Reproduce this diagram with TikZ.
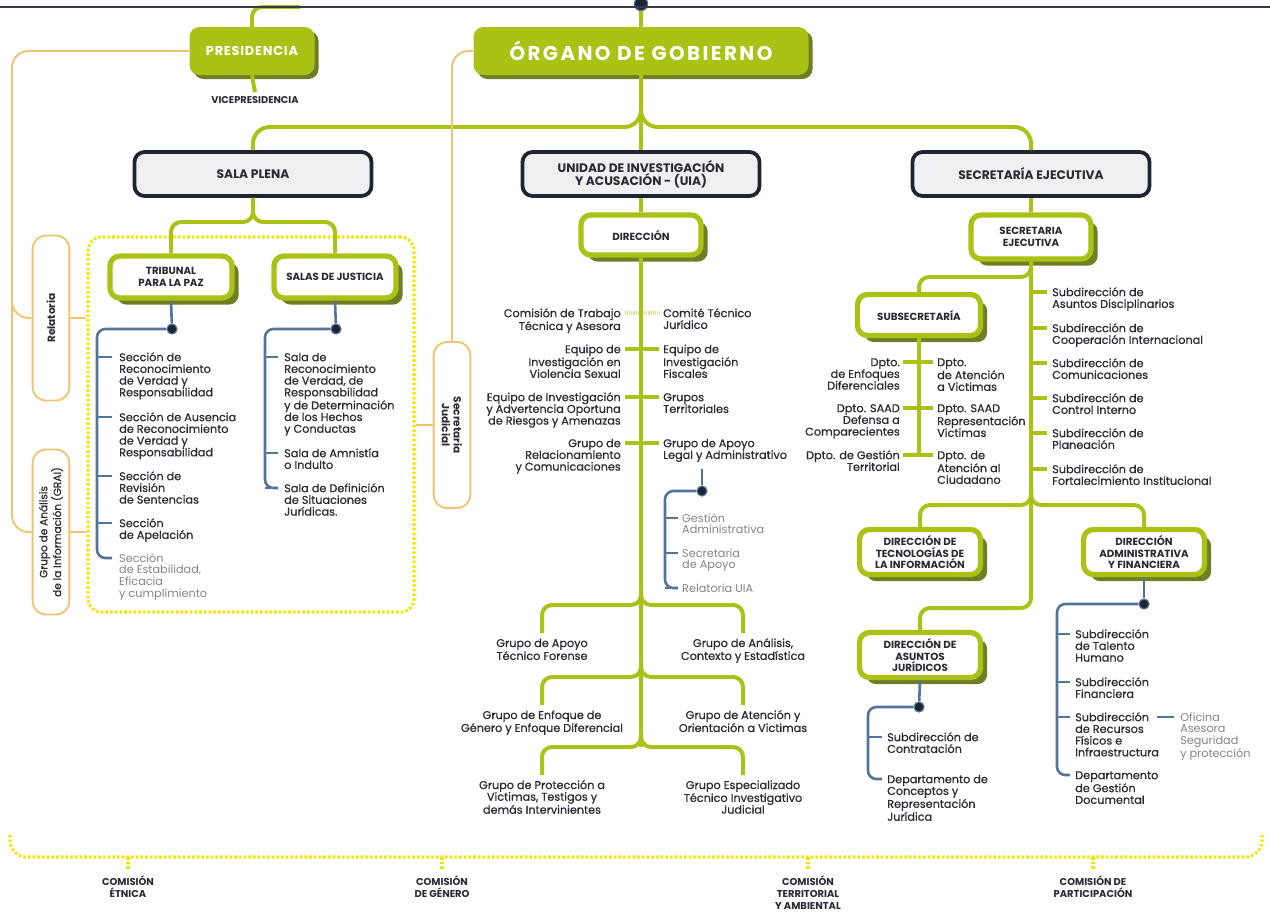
\documentclass[tikz,border=0pt]{standalone}
\usepackage{fontspec}
\setmainfont{Poppins}
\usetikzlibrary{shadows}

\definecolor{verde}{RGB}{170,193,22}
\definecolor{verdeosc}{RGB}{110,126,36}
\definecolor{marino}{RGB}{30,36,50}
\definecolor{grisfondo}{RGB}{240,240,242}
\definecolor{naranja}{RGB}{240,196,112}
\definecolor{amarillo}{RGB}{246,228,0}
\definecolor{azul}{RGB}{82,116,156}
\definecolor{texto}{RGB}{40,42,52}
\definecolor{gristexto}{RGB}{130,132,140}

\begin{document}
\begin{tikzpicture}[x=0.03cm,y=-0.03cm,
    gfill/.style={fill=verde,rounded corners=0.3cm,text=white,
        drop shadow={shadow xshift=0.12cm,shadow yshift=-0.12cm,fill=verdeosc,opacity=1}},
    dbox/.style={draw=marino,line width=3.2pt,fill=grisfondo,rounded corners=0.3cm,
        text=texto,align=center,font=\bfseries\fontsize{10.5}{10}\selectfont,
        minimum width=7.11cm,minimum height=1.32cm},
    wbox/.style={draw=verde,line width=4.5pt,fill=white,rounded corners=0.3cm,
        text=texto,align=center,font=\bfseries\fontsize{8.8}{10}\selectfont,
        minimum width=3.66cm,minimum height=1.3cm,
        drop shadow={shadow xshift=0.2cm,shadow yshift=-0.2cm,fill=verdeosc,opacity=1}},
    obox/.style={draw=naranja,line width=1.6pt,fill=white,rounded corners=0.4cm,
        text=texto,align=center,font=\bfseries\fontsize{9}{10}\selectfont,
        minimum width=4.95cm,minimum height=1.1cm},
    gline/.style={draw=verde,line width=3.4pt,rounded corners=0.3cm},
    bline/.style={draw=azul,line width=2.2pt,rounded corners=0.25cm},
    oline/.style={draw=naranja,line width=1.6pt,rounded corners=0.5cm},
    ydot/.style={draw=amarillo,line width=2.6pt,dash pattern=on 2.2pt off 1.8pt},
    itm/.style={text=texto,inner sep=0pt,align=left,
        font=\fontsize{9.6}{10}\selectfont\addfontfeature{FakeBold=0.6}},
    itmg/.style={itm,text=gristexto,font=\fontsize{9.6}{10}\selectfont},
    punto/.style={circle,fill=marino,draw=azul,line width=1pt,inner sep=0pt,minimum size=0.3cm},
    comision/.style={text=texto,inner sep=0pt,align=center,font=\bfseries\fontsize{8.5}{10}\selectfont}
]
\useasboundingbox (0,0) rectangle (1270,914);

% nivel superior
\node[gfill,minimum width=3.75cm,minimum height=1.44cm,font=\bfseries\fontsize{11}{12}\selectfont] (pres) at (252,51) {\addfontfeature{LetterSpace=6}PRESIDENCIA};
\node[gfill,minimum width=10.05cm,minimum height=1.44cm,font=\bfseries\fontsize{17}{18}\selectfont] (og) at (641,51) {\addfontfeature{LetterSpace=12}ÓRGANO DE GOBIERNO};
\node[text=texto,font=\bfseries\fontsize{8.4}{9}\selectfont] (vp) at (255,100) {VICEPRESIDENCIA};
\node[punto,minimum size=0.4cm] (cima) at (641,4) {};
\coordinate (bordeP) at (300,7);
\draw[gline] (pres.north) |- (bordeP);
\draw[gline] (cima) -- (og.north);
\draw[gline] (pres.south) -- (vp.north);

\node[dbox] (sp) at (253,174) {SALA PLENA};
\node[dbox] (uia) at (641,174) {UNIDAD DE INVESTIGACIÓN\\Y ACUSACIÓN - (UIA)};
\node[dbox] (se) at (1031,174) {SECRETARÍA EJECUTIVA};
\coordinate (busL) at (253,127);
\coordinate (busR) at (1031,127);
\draw[gline,rounded corners=0.5cm] (og.south) |- (busL) -- (sp.north);
\draw[gline,rounded corners=0.5cm] (og.south) |- (busR) -- (se.north);
\draw[gline] (og.south) -- (uia.north);

% sala plena
\node[ydot,rounded corners=0.4cm,minimum width=9.78cm,minimum height=11.25cm] (salas) at (251,424.5) {};
\node[wbox,minimum height=1.26cm] (tpp) at (171,277) {TRIBUNAL\\PARA LA PAZ};
\node[wbox,minimum height=1.26cm] (sj) at (335,277) {SALAS DE JUSTICIA};
\coordinate (spj) at (253,222);
\draw[gline] (sp.south) -- (spj) -| (tpp.north);
\draw[gline] (sp.south) -- (spj) -| (sj.north);

\node[punto] (tdot) at (172,329) {};
\draw[bline] (tpp.south) -- (tdot);
\coordinate (tfin) at (97,558);
\foreach \y/\txt [count=\i] in {357/{Sección de\\Reconocimiento\\de Verdad y\\Responsabilidad},
    417/{Sección de Ausencia\\de Reconocimiento\\de Verdad y\\Responsabilidad},
    476/{Sección de\\Revisión\\de Sentencias},
    523/{Sección\\de Apelación}}
{
    \node[itm,anchor=north west] (tr\i) at (119,\y-6.5) {\vphantom{Ó}\txt};
    \coordinate (trt\i) at (112,\y);
    \draw[bline] (tfin |- trt\i) -- (trt\i);
}
\node[itmg,anchor=north west] (tr5) at (119,551.5) {\vphantom{Ó}Sección\\de Estabilidad,\\Eficacia\\y cumplimiento};
\coordinate (trt5) at (112,558);
\draw[bline] (tdot) -| (tfin) -- (trt5);

\node[punto] (jdot0) at (336,329) {};
\draw[bline] (sj.south) -- (jdot0);
\coordinate (sjfin) at (265,488);
\foreach \y/\txt [count=\i] in {357/{Sala de\\Reconocimiento\\de Verdad, de\\Responsabilidad\\y de Determinación\\de los Hechos\\y Conductas},
    453/{Sala de Amnistía\\o Indulto},
    488/{Sala de Definición\\de Situaciones\\Jurídicas.}}
{
    \node[itm,anchor=north west] (sl\i) at (284,\y-6.5) {\vphantom{Ó}\txt};
    \coordinate (slt\i) at (278,\y);
    \draw[bline] (sjfin |- slt\i) -- (slt\i);
}
\draw[bline] (jdot0) -| (sjfin) -- (slt3);

% grupos de apoyo (naranja)
\node[obox,rotate=90] (rel) at (51,318) {Relatoria};
\node[obox,rotate=90,font=\fontsize{9}{10}\selectfont\addfontfeature{FakeBold=0.6}] (grai) at (51,532) {Grupo de Análisis\\de la Información (GRAI)};
\node[obox,rotate=-90,minimum width=4.98cm] (sjud) at (452,425) {Secretaria\\Judicial};
\coordinate (ocol) at (12,532);
\coordinate (orama) at (12,290);
\draw[oline] (pres.west) -| (ocol) -- (grai.north);
\draw[oline] (orama) |- (rel.north);
\draw[oline] (rel.south) -- (rel.south -| salas.west);
\draw[oline] (grai.south) -- (grai.south -| salas.west);
\draw[oline] (og.west) -| (sjud.west);
\draw[oline] (sjud.south) -- (sjud.south -| salas.east);

% UIA
\node[wbox,minimum width=3.6cm,minimum height=1.2cm] (dir) at (641,235) {DIRECCIÓN};
\draw[gline] (uia.south) -- (dir.north);
\foreach \y/\izq/\der [count=\i] in {313/{Comisión de Trabajo\\Técnica y Asesora}/{Comité Técnico\\Jurídico},
    349/{Equipo de\\Investigación en\\Violencia Sexual}/{Equipo de\\Investigación\\Fiscales},
    397/{Equipo de Investigación\\y Advertencia Oportuna\\de Riesgos y Amenazas}/{Grupos\\Territoriales},
    443/{Grupo de\\Relacionamiento\\y Comunicaciones}/{Grupo de Apoyo\\Legal y Administrativo}}
{
    \node[itm,align=right,anchor=north east] (ui\i) at (621,\y-6.5) {\vphantom{Ó}\izq};
    \node[itm,anchor=north west] (ud\i) at (663,\y-6.5) {\vphantom{Ó}\der};
    \coordinate (uci\i) at (625,\y);
    \coordinate (ucd\i) at (659,\y);
}
\draw[gline,draw=verde!45,dash pattern=on 0.9pt off 0.7pt] (uci1) -- (ucd1);
\foreach \i in {2,3,4}
{
    \draw[gline] (uci\i) -- (ucd\i);
}
\coordinate (uj3) at (641,747);
\draw[gline] (dir.south) -- (uj3);

\node[punto] (udot) at (702,491) {};
\draw[bline,shorten <=0.2cm] (udot |- ud4.south) -- (udot);
\coordinate (ufin) at (665,588);
\foreach \y/\txt [count=\i] in {518/{Gestión\\Administrativa},553/{Secretaria\\de Apoyo},588/{Relatoria UIA}}
{
    \node[itmg,anchor=north west] (ua\i) at (682,\y-6.5) {\vphantom{Ó}\txt};
    \coordinate (uat\i) at (678,\y);
    \draw[bline] (ufin |- uat\i) -- (uat\i);
}
\draw[bline] (udot) -| (ufin) -- (uat3);

\foreach \j/\y/\izq/\der in {1/605/{Grupo de Apoyo\\Técnico Forense}/{Grupo de Análisis,\\Contexto y Estadística},
    2/677/{Grupo de Enfoque de\\Género y Enfoque  Diferencial}/{Grupo de Atención y\\Orientación a Victimas},
    3/747/{Grupo de Protección a\\Victimas, Testigos y\\demás Intervinientes}/{Grupo Especializado\\Técnico Investigativo\\Judicial}}
{
    \coordinate (uj\j) at (641,\y);
    \coordinate (uja\j) at (641,\y-15);
    \node[itm,align=center,anchor=north,inner sep=0.1cm] (gi\j) at (542,\y+28) {\vphantom{Ó}\izq};
    \node[itm,align=center,anchor=north,inner sep=0.1cm] (gd\j) at (743,\y+28) {\vphantom{Ó}\der};
    \draw[gline] (uja\j) -- (uj\j) -| (gi\j.north);
    \draw[gline] (uja\j) -- (uj\j) -| (gd\j.north);
}

% secretaria ejecutiva
\node[wbox,minimum width=3.6cm,minimum height=1.32cm] (sej) at (1031,237) {SECRETARIA\\EJECUTIVA};
\draw[gline] (se.south) -- (sej.north);
\node[wbox,minimum width=3.69cm,minimum height=1.23cm] (sub) at (919,315) {SUBSECRETARÍA};
\node[wbox,minimum width=3.63cm,minimum height=1.35cm] (dti) at (920,552) {DIRECCIÓN DE\\TECNOLOGÍAS DE\\LA INFORMACIÓN};
\node[wbox,minimum width=3.63cm,minimum height=1.35cm] (daf) at (1144,552) {DIRECCIÓN\\ADMINISTRATIVA\\Y FINANCIERA};
\node[wbox,minimum width=3.63cm,minimum height=1.35cm] (daj) at (920,655) {DIRECCIÓN DE\\ASUNTOS\\JURÍDICOS};
\coordinate (sj1) at (1031,277);
\coordinate (sj2) at (1031,505);
\coordinate (sj2a) at (1031,490);
\coordinate (sfin) at (1031,608);
\draw[gline] (sej.south) -- (sfin) -| (daj.north);
\draw[gline] (sej.south) -- (sj1) -| (sub.north);
\draw[gline] (sj2a) -- (sj2) -| (dti.north);
\draw[gline] (sj2a) -- (sj2) -| (daf.north);

\foreach \y/\txt [count=\i] in {292/{Subdirección de\\Asuntos Disciplinarios},
    328/{Subdirección de\\Cooperación Internacional},
    363/{Subdirección de\\Comunicaciones},
    398/{Subdirección de\\Control Interno},
    433/{Subdirección de\\Planeación},
    469/{Subdirección de\\Fortalecimiento Institucional}}
{
    \node[itm,anchor=north west] (sd\i) at (1052,\y-6.5) {\vphantom{Ó}\txt};
    \coordinate (sdt\i) at (1047,\y);
    \draw[gline] (sj1 |- sdt\i) -- (sdt\i);
}

\coordinate (ssfin) at (918,455);
\draw[gline] (sub.south) -- (sub.south |- ssfin);
\foreach \y/\izq/\der [count=\i] in {362/{Dpto.\\de Enfoques\\Diferenciales}/{Dpto.\\de Atención\\a Victimas},
    408/{Dpto. SAAD\\Defensa a\\Comparecientes}/{Dpto. SAAD\\Representación\\Victimas},
    455/{Dpto. de Gestión\\Territorial}/{Dpto. de\\Atención al\\Ciudadano}}
{
    \node[itm,align=right,anchor=north east] (si\i) at (900,\y-6.5) {\vphantom{Ó}\izq};
    \node[itm,anchor=north west] (sr\i) at (937,\y-6.5) {\vphantom{Ó}\der};
    \coordinate (sci\i) at (903,\y);
    \coordinate (scd\i) at (933,\y);
    \draw[gline] (sci\i) -- (scd\i);
}

\node[punto] (jdot) at (919,707) {};
\draw[bline] (daj.south) -- (jdot);
\coordinate (jfin) at (868,779);
\foreach \y/\txt [count=\i] in {737/{Subdirección de\\Contratación},779/{Departamento de\\Conceptos y\\Representación\\Jurídica}}
{
    \node[itm,anchor=north west] (jr\i) at (887,\y-6.5) {\vphantom{Ó}\txt};
    \coordinate (jt\i) at (882,\y);
}
\draw[bline] (jfin |- jt1) -- (jt1);
\draw[bline] (jdot) -| (jfin) -- (jt2);

\node[punto] (adot) at (1144,604) {};
\draw[bline] (daf.south) -- (adot);
\coordinate (afin) at (1057,775);
\foreach \y/\txt [count=\i] in {634/{Subdirección\\de Talento\\Humano},682/{Subdirección\\Financiera},
    717/{Subdirección\\de Recursos\\Físicos e\\Infraestructura},775/{Departamento\\de Gestión\\Documental}}
{
    \node[itm,anchor=north west] (ar\i) at (1075,\y-6.5) {\vphantom{Ó}\txt};
    \coordinate (at\i) at (1070,\y);
}
\foreach \i in {1,2,3}
{
    \draw[bline] (afin |- at\i) -- (at\i);
}
\draw[bline] (adot) -| (afin) -- (at4);
\node[itmg,anchor=north west] (ofi) at (1180,710.5) {\vphantom{Ó}Oficina\\Asesora\\Seguridad\\y protección};
\coordinate (ofa) at (1157,717);
\draw[bline,line width=1.6pt,shorten >=0.18cm] (ofa) -- (ofa -| ofi.west);

% comisiones
\coordinate (cizq) at (10,835);
\coordinate (cder) at (1262,835);
\coordinate (cbase) at (1262,857);
\draw[ydot,rounded corners=0.5cm] (cizq) |- (cbase) -- (cder);
\foreach \x/\txt [count=\i] in {128/{COMISIÓN\\ÉTNICA},442/{COMISIÓN\\DE GÉNERO},
    808/{COMISIÓN\\TERRITORIAL\\Y AMBIENTAL},1093/{COMISIÓN DE\\PARTICIPACIÓN}}
{
    \node[comision,anchor=north] (com\i) at (\x,876) {\txt};
    \draw[ydot,shorten >=0.2cm] (com\i.north |- cbase) -- (com\i.north);
}

\draw[marino!90,line width=2.4pt] (0,7) -- (1270,7);
\end{tikzpicture}
\end{document}
